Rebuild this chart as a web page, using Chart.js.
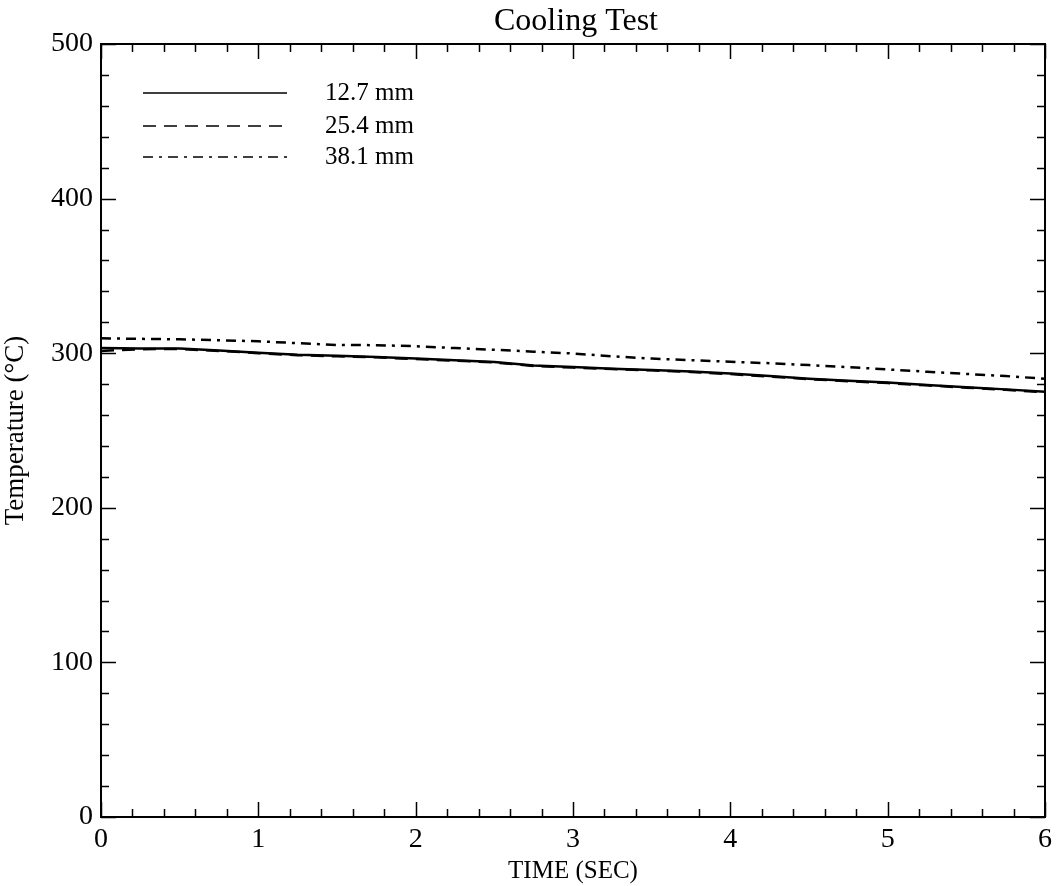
<!DOCTYPE html>
<html>
<head>
<meta charset="utf-8">
<title>Cooling Test</title>
<script src="https://cdn.jsdelivr.net/npm/chart.js@4"></script>
<style>
  html, body { margin: 0; padding: 0; background: #fff; }
  #wrap { width: 1058px; height: 886px; }
</style>
</head>
<body>
<div id="wrap"><canvas id="chart" width="1058" height="886"></canvas></div>
<script>
// time (s)
const timeSec = [0, 0.25, 0.5, 0.75, 1, 1.25, 1.5, 1.75, 2, 2.25, 2.5, 2.75, 3,
  3.25, 3.5, 3.75, 4, 4.25, 4.5, 4.75, 5, 5.25, 5.5, 5.75, 6];

// temperatures (deg C)
const temp127 = [303.3, 303, 303, 301.8, 300.3, 299, 298.3, 297.6, 296.5, 295.5, 294.3, 292, 291,
  290, 289.2, 288.2, 286.8, 285.2, 283.5, 282.2, 281, 279.5, 278, 276.6, 275];
const temp254 = [301.5, 302.6, 302.7, 301.5, 300, 298.7, 298, 297.3, 296.2, 295.2, 294, 291.7, 290.7,
  289.7, 288.9, 287.9, 286.5, 284.9, 283.2, 281.9, 280.7, 279.2, 277.7, 276.3, 274.7];
const temp381 = [309.6, 309.3, 309, 308.4, 307.7, 306.5, 305.3, 305.2, 304.5, 303.3, 302.2, 301, 299.8,
  298, 296.5, 295.5, 294.5, 293.5, 292.3, 291, 289.5, 288, 286.6, 285.2, 283.5];

const seriesLabels = ['12.7 mm', '25.4 mm', '38.1 mm'];
const chartTitle = 'Cooling Test';

const xMin = 0, xMax = 6, xMajor = 1, xMinor = 0.2;
const yMin = 0, yMax = 500, yMajor = 100, yMinor = 20;

const serif = '"Liberation Serif", "DejaVu Serif", serif';

// draws the title over the plot, the frame, inward ticks on all four sides, and the legend
const framePlugin = {
  id: 'frame',
  afterDraw(chart) {
    const { ctx, chartArea: a, scales } = chart;
    const xs = scales.x, ys = scales.y;
    ctx.save();
    ctx.fillStyle = '#000';
    ctx.font = '32px ' + serif;
    ctx.textAlign = 'center';
    ctx.textBaseline = 'bottom';
    ctx.fillText(chartTitle, (a.left + a.right) / 2 + 3, a.top - 6);

    ctx.strokeStyle = '#000';
    ctx.lineWidth = 2;
    ctx.strokeRect(a.left, a.top, a.right - a.left, a.bottom - a.top);

    ctx.lineWidth = 1.5;
    ctx.beginPath();
    for (let v = xMin; v <= xMax + 1e-9; v += xMinor) {
      const isMajor = Math.abs(v / xMajor - Math.round(v / xMajor)) < 1e-6;
      const len = isMajor ? 15 : 8;
      const px = Math.round(xs.getPixelForValue(v)) + 0.5;
      ctx.moveTo(px, a.bottom); ctx.lineTo(px, a.bottom - len);
      ctx.moveTo(px, a.top); ctx.lineTo(px, a.top + len);
    }
    for (let v = yMin; v <= yMax + 1e-9; v += yMinor) {
      const isMajor = Math.abs(v / yMajor - Math.round(v / yMajor)) < 1e-6;
      const len = isMajor ? 15 : 8;
      const py = Math.round(ys.getPixelForValue(v)) + 0.5;
      ctx.moveTo(a.left, py); ctx.lineTo(a.left + len, py);
      ctx.moveTo(a.right, py); ctx.lineTo(a.right - len, py);
    }
    ctx.stroke();

    // legend
    const rows = [49, 82, 113];
    ctx.font = '25px ' + serif;
    ctx.textAlign = 'left';
    ctx.textBaseline = 'middle';
    chart.data.datasets.forEach((ds, i) => {
      const y = a.top + rows[i];
      ctx.lineWidth = 1.5;
      ctx.setLineDash(ds.borderDash || []);
      ctx.beginPath();
      ctx.moveTo(a.left + 42, y);
      ctx.lineTo(a.left + 186, y);
      ctx.stroke();
      ctx.setLineDash([]);
      ctx.fillText(ds.label, a.left + 224, y);
    });
    ctx.restore();
  }
};

const toPoints = arr => arr.map((t, i) => ({ x: timeSec[i], y: t }));

new Chart(document.getElementById('chart'), {
  type: 'line',
  data: {
    datasets: [
      { label: seriesLabels[0], data: toPoints(temp127), borderColor: '#000', borderWidth: 2.5,
        pointRadius: 0, tension: 0, order: 1 },
      { label: seriesLabels[1], data: toPoints(temp254), borderColor: '#000', borderWidth: 2.5,
        borderDash: [13, 8], pointRadius: 0, tension: 0, order: 2 },
      { label: seriesLabels[2], data: toPoints(temp381), borderColor: '#000', borderWidth: 2.5,
        borderDash: [10, 6, 3, 6], pointRadius: 0, tension: 0, order: 0 }
    ]
  },
  options: {
    responsive: false,
    animation: false,
    layout: { padding: { left: 0, right: 8, top: 44, bottom: 0 } },
    plugins: {
      legend: { display: false },
      tooltip: { enabled: false },
      title: { display: false }
    },
    scales: {
      x: {
        type: 'linear',
        min: xMin, max: xMax,
        grid: { display: false, drawTicks: false },
        border: { display: false },
        ticks: { stepSize: xMajor, color: '#000', padding: 6, font: { family: serif, size: 28 } },
        title: { display: true, text: 'TIME (SEC)', color: '#000', padding: { top: -4, bottom: 0 },
                 font: { family: serif, size: 25 } },
        afterFit(scale) { scale.height = 69; }
      },
      y: {
        type: 'linear',
        min: yMin, max: yMax,
        grid: { display: false, drawTicks: false },
        border: { display: false },
        ticks: { stepSize: yMajor, color: '#000', padding: 8, font: { family: serif, size: 28 } },
        title: { display: true, text: 'Temperature (°C)', color: '#000', padding: { top: 0, bottom: 4 },
                 font: { family: serif, size: 27 } },
        afterFit(scale) { scale.width = 101; }
      }
    }
  },
  plugins: [framePlugin]
});
</script>
</body>
</html>
